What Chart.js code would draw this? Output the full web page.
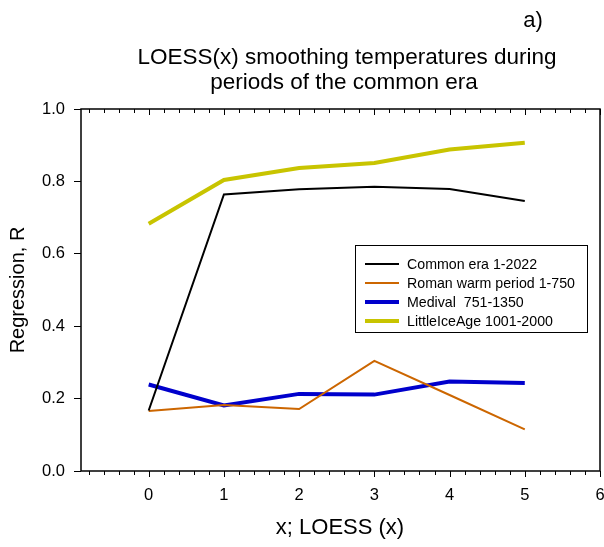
<!DOCTYPE html>
<html>
<head>
<meta charset="utf-8">
<script src="https://cdn.jsdelivr.net/npm/chart.js@4"></script>
<style>
  html, body { margin: 0; padding: 0; background: #fff; }
  #wrap { width: 604px; height: 547px; }
</style>
</head>
<body>
<div id="wrap"><canvas id="chart" width="604" height="547"></canvas></div>
<script>
// data
const xValues = [0, 1, 2, 3, 4, 5];
const commonEra = [0.167, 0.764, 0.778, 0.785, 0.779, 0.746];
const romanWarm = [0.166, 0.182, 0.171, 0.304, 0.210, 0.115];
const medieval = [0.239, 0.181, 0.213, 0.211, 0.247, 0.243];
const littleIceAge = [0.683, 0.804, 0.837, 0.851, 0.888, 0.907];
const xTickLabels = [0, 1, 2, 3, 4, 5, 6];
const yTickLabels = [0, 0.2, 0.4, 0.6, 0.8, 1.0];

const FONT = "Arial, 'Liberation Sans', sans-serif";

function toPoints(ys) {
    return xValues.map((x, i) => ({ x: x, y: ys[i] }));
}

// frame, minor ticks, titles and the boxed legend
const decorations = {
    id: 'decorations',
    afterDraw(chart) {
        const ctx = chart.ctx;
        const a = chart.chartArea;
        const xs = chart.scales.x;
        ctx.save();
        ctx.strokeStyle = '#000';
        ctx.lineWidth = 1.5;
        ctx.strokeRect(a.left, a.top, a.right - a.left, a.bottom - a.top);

        // x ticks: bottom outward, top inward
        ctx.lineWidth = 1;
        for (let i = -4; i <= 30; i++) {
            const v = i * 0.2;
            const px = Math.round(xs.getPixelForValue(v)) + 0.5;
            const major = i % 5 === 0;
            const len = major ? 6 : 4;
            ctx.beginPath();
            ctx.moveTo(px, a.bottom);
            ctx.lineTo(px, a.bottom + len);
            ctx.moveTo(px, a.top);
            ctx.lineTo(px, a.top + len);
            ctx.stroke();
        }

        // titles
        ctx.fillStyle = '#000';
        ctx.textAlign = 'center';
        ctx.textBaseline = 'middle';
        ctx.font = '22.5px ' + FONT;
        ctx.fillText('LOESS(x) smoothing temperatures during', 347, 58);
        ctx.fillText('periods of the common era', 344, 83);
        ctx.font = '22px ' + FONT;
        ctx.fillText('a)', 533, 21);

        // axis titles
        ctx.font = '22px ' + FONT;
        ctx.fillText('x; LOESS (x)', 340, 528);
        ctx.save();
        ctx.translate(18, 290);
        ctx.rotate(-Math.PI / 2);
        ctx.font = '20px ' + FONT;
        ctx.fillText('Regression, R', 0, 0);
        ctx.restore();

        // legend box
        const box = { x: 355, y: 245, w: 232, h: 87 };
        ctx.fillStyle = '#fff';
        ctx.fillRect(box.x, box.y, box.w, box.h);
        ctx.lineWidth = 1;
        ctx.strokeStyle = '#000';
        ctx.strokeRect(box.x + 0.5, box.y + 0.5, box.w, box.h);
        ctx.font = '14.2px ' + FONT;
        ctx.textAlign = 'left';
        chart.data.datasets.forEach((ds, i) => {
            const y = 264 + i * 19;
            ctx.strokeStyle = ds.borderColor;
            ctx.lineWidth = ds.borderWidth;
            ctx.beginPath();
            ctx.moveTo(365, y);
            ctx.lineTo(399, y);
            ctx.stroke();
            ctx.fillStyle = '#000';
            ctx.fillText(ds.label, 407, y + 1);
        });
        ctx.restore();
    }
};

new Chart(document.getElementById('chart'), {
    type: 'line',
    data: {
        datasets: [
            { label: 'Common era 1-2022', data: toPoints(commonEra), borderColor: '#000000', borderWidth: 2 },
            { label: 'Roman warm period 1-750', data: toPoints(romanWarm), borderColor: '#cc6600', borderWidth: 2 },
            { label: 'Medival  751-1350', data: toPoints(medieval), borderColor: '#0000cc', borderWidth: 4 },
            { label: 'LittleIceAge 1001-2000', data: toPoints(littleIceAge), borderColor: '#c8c400', borderWidth: 4 }
        ]
    },
    options: {
        responsive: false,
        animation: false,
        layout: { padding: { top: 109, right: 4, left: 0, bottom: 0 } },
        elements: {
            point: { radius: 0 },
            line: { tension: 0, borderCapStyle: 'butt' }
        },
        plugins: {
            legend: { display: false },
            tooltip: { enabled: false }
        },
        scales: {
            x: {
                type: 'linear',
                min: -0.9,
                max: 6,
                afterBuildTicks(scale) {
                    scale.ticks = xTickLabels.map(v => ({ value: v }));
                },
                afterFit(scale) {
                    scale.height = 76;
                    scale.paddingLeft = 0;
                    scale.paddingRight = 0;
                },
                grid: { display: false },
                border: { display: false },
                ticks: {
                    color: '#000',
                    font: { family: FONT, size: 16.5 },
                    padding: 7,
                    maxRotation: 0,
                    autoSkip: false,
                    callback: v => String(v)
                }
            },
            y: {
                min: 0,
                max: 1,
                afterBuildTicks(scale) {
                    scale.ticks = yTickLabels.map(v => ({ value: v }));
                },
                afterFit(scale) { scale.width = 81; },
                grid: {
                    drawOnChartArea: false,
                    drawTicks: true,
                    tickLength: 7,
                    color: '#000',
                    lineWidth: 1
                },
                border: { display: false },
                ticks: {
                    color: '#000',
                    font: { family: FONT, size: 16.5 },
                    padding: 9,
                    callback: v => v.toFixed(1)
                }
            }
        }
    },
    plugins: [decorations]
});
</script>
</body>
</html>
